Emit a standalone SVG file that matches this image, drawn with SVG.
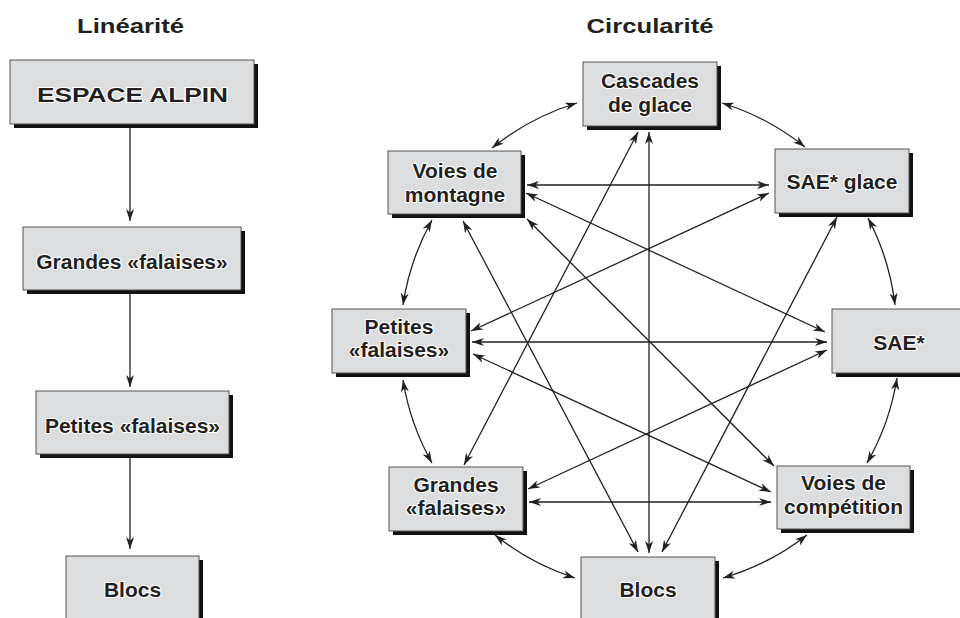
<svg xmlns="http://www.w3.org/2000/svg" width="960" height="618" viewBox="0 0 960 618">
<style>
.bg{fill:#ffffff}
.box{fill:#dcdddf;stroke:#555;stroke-width:1}
.sh{fill:#111}
.t{font-family:"Liberation Sans",Arial,Helvetica,sans-serif;font-weight:bold;font-size:21px;fill:#231f20;text-anchor:middle;stroke:#fff;stroke-width:2.2;paint-order:stroke;stroke-linejoin:round}
.title{font-family:"Liberation Sans",Arial,Helvetica,sans-serif;font-weight:bold;font-size:21px;fill:#231f20;text-anchor:middle}
.c{fill:none;stroke:#231f20;stroke-width:1.3}
</style>
<defs>
<marker id="ah" viewBox="0 0 12 8" refX="12" refY="4" markerWidth="12" markerHeight="8" markerUnits="userSpaceOnUse" orient="auto-start-reverse">
<path d="M0,0 L12,4 L0,8 L3.5,4 Z" fill="#231f20"/>
</marker>
</defs>
<rect class="bg" x="0" y="0" width="960" height="618"/>
<text class="title" x="130.5" y="33" textLength="107" lengthAdjust="spacingAndGlyphs">Linéarité</text>
<text class="title" x="650" y="33" textLength="127" lengthAdjust="spacingAndGlyphs">Circularité</text>

<g id="connectors">
<line class="c" x1="130" y1="124" x2="130" y2="221" marker-end="url(#ah)"/>
<line class="c" x1="130" y1="290" x2="130" y2="387" marker-end="url(#ah)"/>
<line class="c" x1="130" y1="454" x2="130" y2="549" marker-end="url(#ah)"/>

<path class="c" d="M722,103 A249,249 0 0 1 805,147" marker-start="url(#ah)" marker-end="url(#ah)"/>
<path class="c" d="M868,218 A249,249 0 0 1 895,305" marker-start="url(#ah)" marker-end="url(#ah)"/>
<path class="c" d="M897,378 A249,249 0 0 1 867,463" marker-start="url(#ah)" marker-end="url(#ah)"/>
<path class="c" d="M807,535 A249,249 0 0 1 723,578" marker-start="url(#ah)" marker-end="url(#ah)"/>
<path class="c" d="M575,578 A249,249 0 0 1 495,535" marker-start="url(#ah)" marker-end="url(#ah)"/>
<path class="c" d="M432,463 A249,249 0 0 1 403,380" marker-start="url(#ah)" marker-end="url(#ah)"/>
<path class="c" d="M403,305 A249,249 0 0 1 432,220" marker-start="url(#ah)" marker-end="url(#ah)"/>
<path class="c" d="M492,148 A249,249 0 0 1 577,103" marker-start="url(#ah)" marker-end="url(#ah)"/>

<line class="c" x1="527" y1="185" x2="769" y2="185" marker-start="url(#ah)" marker-end="url(#ah)"/>
<line class="c" x1="526" y1="193" x2="825" y2="332" marker-start="url(#ah)" marker-end="url(#ah)"/>
<line class="c" x1="463" y1="221" x2="638" y2="552" marker-start="url(#ah)" marker-end="url(#ah)"/>
<line class="c" x1="527" y1="219" x2="774" y2="466" marker-start="url(#ah)" marker-end="url(#ah)"/>
<line class="c" x1="769" y1="193" x2="471" y2="331" marker-start="url(#ah)" marker-end="url(#ah)"/>
<line class="c" x1="837" y1="217" x2="662" y2="552" marker-start="url(#ah)" marker-end="url(#ah)"/>
<line class="c" x1="827" y1="342" x2="472" y2="342" marker-start="url(#ah)" marker-end="url(#ah)"/>
<line class="c" x1="827" y1="350" x2="528" y2="489" marker-start="url(#ah)" marker-end="url(#ah)"/>
<line class="c" x1="473" y1="354" x2="771" y2="492" marker-start="url(#ah)" marker-end="url(#ah)"/>
<line class="c" x1="529" y1="502" x2="771" y2="502" marker-start="url(#ah)" marker-end="url(#ah)"/>
<line class="c" x1="464" y1="465" x2="638" y2="132" marker-start="url(#ah)" marker-end="url(#ah)"/>
<line class="c" x1="649" y1="132" x2="649" y2="553" marker-start="url(#ah)" marker-end="url(#ah)"/>
</g>

<g id="espace-alpin">
<rect class="sh" x="14" y="64" width="244" height="64"/>
<rect class="box" x="10" y="60" width="244" height="64"/>
<text class="t" x="132.5" y="102" textLength="191" lengthAdjust="spacingAndGlyphs">ESPACE ALPIN</text>
</g>
<g id="lin-grandes-falaises">
<rect class="sh" x="27" y="231" width="218" height="63"/>
<rect class="box" x="23" y="227" width="218" height="63"/>
<text class="t" x="132" y="269">Grandes «falaises»</text>
</g>
<g id="lin-petites-falaises">
<rect class="sh" x="40" y="395" width="193" height="63"/>
<rect class="box" x="36" y="391" width="193" height="63"/>
<text class="t" x="132.5" y="433">Petites «falaises»</text>
</g>
<g id="lin-blocs">
<rect class="sh" x="70" y="560" width="133" height="64"/>
<rect class="box" x="66" y="556" width="133" height="64"/>
<text class="t" x="132.5" y="597">Blocs</text>
</g>

<g id="cascades-de-glace">
<rect class="sh" x="587" y="66" width="134" height="64"/>
<rect class="box" x="583" y="62" width="134" height="64"/>
<text class="t" x="650" y="88">Cascades</text>
<text class="t" x="650" y="112">de glace</text>
</g>
<g id="voies-de-montagne">
<rect class="sh" x="392" y="155" width="133" height="63"/>
<rect class="box" x="388" y="151" width="133" height="63"/>
<text class="t" x="455" y="178">Voies de</text>
<text class="t" x="455" y="202">montagne</text>
</g>
<g id="sae-glace">
<rect class="sh" x="779" y="153" width="134" height="64"/>
<rect class="box" x="775" y="149" width="134" height="64"/>
<text class="t" x="842" y="189">SAE* glace</text>
</g>
<g id="circ-petites-falaises">
<rect class="sh" x="336" y="313" width="134" height="64"/>
<rect class="box" x="332" y="309" width="134" height="64"/>
<text class="t" x="399" y="334">Petites</text>
<text class="t" x="399" y="357">«falaises»</text>
</g>
<g id="sae">
<rect class="sh" x="836" y="313" width="134" height="64"/>
<rect class="box" x="832" y="309" width="134" height="64"/>
<text class="t" x="899" y="350">SAE*</text>
</g>
<g id="circ-grandes-falaises">
<rect class="sh" x="393" y="471" width="134" height="64"/>
<rect class="box" x="389" y="467" width="134" height="64"/>
<text class="t" x="456" y="492">Grandes</text>
<text class="t" x="456" y="515">«falaises»</text>
</g>
<g id="voies-de-competition">
<rect class="sh" x="781" y="470" width="133" height="63"/>
<rect class="box" x="777" y="466" width="133" height="63"/>
<text class="t" x="843.5" y="490">Voies de</text>
<text class="t" x="843.5" y="514">compétition</text>
</g>
<g id="circ-blocs">
<rect class="sh" x="585" y="561" width="134" height="64"/>
<rect class="box" x="581" y="557" width="134" height="64"/>
<text class="t" x="648" y="597">Blocs</text>
</g>
</svg>
